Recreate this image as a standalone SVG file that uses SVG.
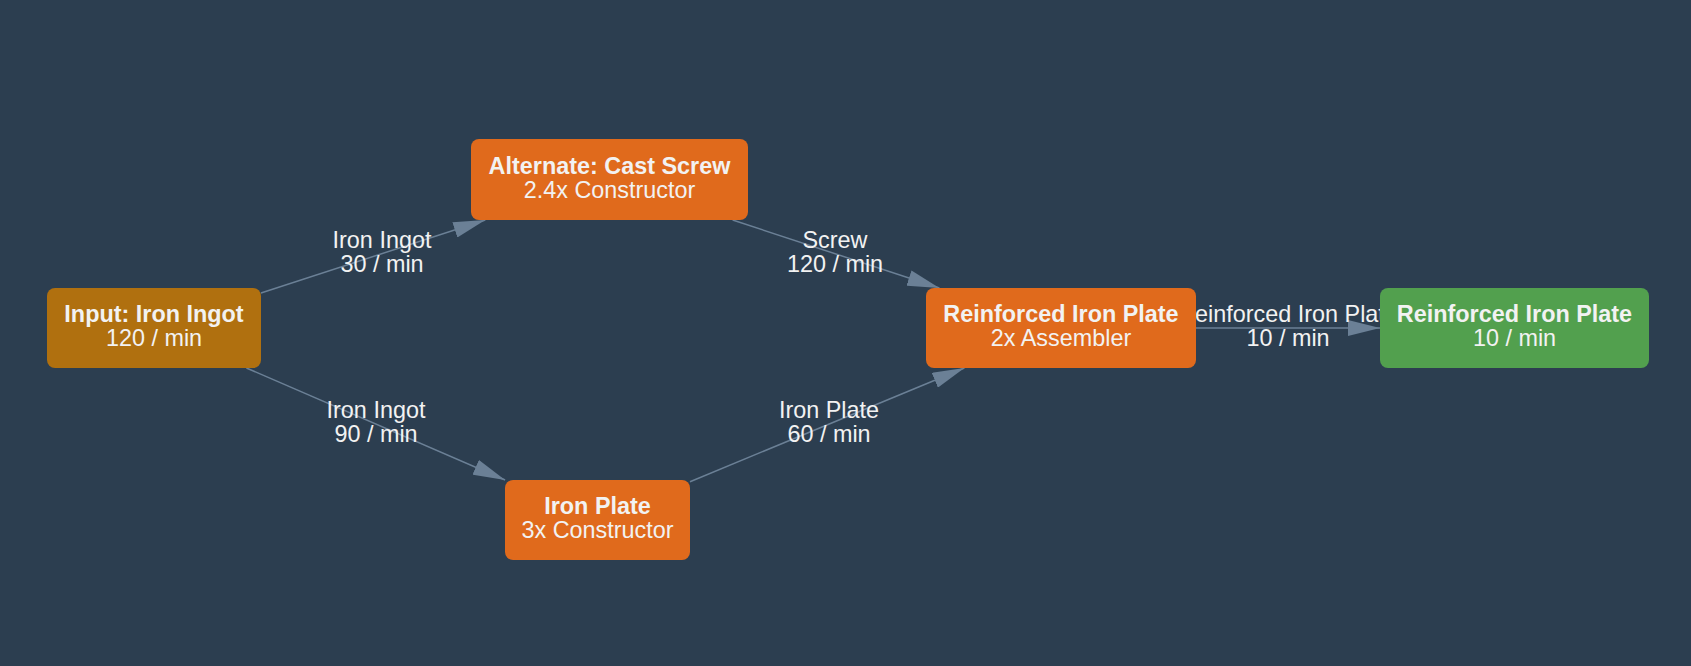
<svg xmlns="http://www.w3.org/2000/svg" width="1691" height="666" viewBox="0 0 1691 666">
<defs>
<style>
.bg{fill:#2c3e50}
.n rect{rx:8;ry:8}
.orange{fill:#e06a1c}
.input{fill:#b0700f}
.green{fill:#52a04e}
.t{font-family:"Liberation Sans",Arial,sans-serif;font-size:23.4px;fill:#f2f2f2;text-anchor:middle}
.b{font-weight:bold}
.e{stroke:#6b8096;stroke-width:1.5;fill:none;marker-end:url(#arr)}
</style>
<marker id="arr" markerUnits="userSpaceOnUse" markerWidth="32" markerHeight="16" refX="32" refY="8" orient="auto" viewBox="0 0 32 16">
<path d="M0,0 L32,8 L0,16 z" fill="#6b8096"/>
</marker>
</defs>
<rect class="bg" x="0" y="0" width="1691" height="666"/>
<g id="connectors">
<g id="e1"><line class="e" x1="261" y1="293" x2="485.3" y2="220"/></g>
<g id="e2"><line class="e" x1="732.6" y1="220" x2="939.4" y2="288"/></g>
<g id="e3"><line class="e" x1="246.4" y1="368" x2="505.1" y2="480"/></g>
<g id="e4"><line class="e" x1="690" y1="481.7" x2="964.4" y2="368"/></g>
<g id="e5"><line class="e" x1="1196" y1="328" x2="1380" y2="328"/></g>
</g>
<g id="edge-labels">
<text class="t" x="382" y="248">Iron Ingot</text>
<text class="t" x="382" y="272">30 / min</text>
<text class="t" x="835" y="248">Screw</text>
<text class="t" x="835" y="272">120 / min</text>
<text class="t" x="376" y="418">Iron Ingot</text>
<text class="t" x="376" y="442">90 / min</text>
<text class="t" x="829" y="418">Iron Plate</text>
<text class="t" x="829" y="442">60 / min</text>
<text class="t" x="1288" y="322">Reinforced Iron Plate</text>
<text class="t" x="1288" y="346">10 / min</text>
</g>
<g id="n-input" class="n">
<rect class="input" x="47" y="288" width="214" height="80"/>
<text class="t b" x="154" y="322">Input: Iron Ingot</text>
<text class="t" x="154" y="346">120 / min</text>
</g>
<g id="n-castscrew" class="n">
<rect class="orange" x="471" y="139" width="277" height="81"/>
<text class="t b" x="609.5" y="173.5">Alternate: Cast Screw</text>
<text class="t" x="609.5" y="197.5">2.4x Constructor</text>
</g>
<g id="n-ironplate" class="n">
<rect class="orange" x="505" y="480" width="185" height="80"/>
<text class="t b" x="597.5" y="514">Iron Plate</text>
<text class="t" x="597.5" y="538">3x Constructor</text>
</g>
<g id="n-rip" class="n">
<rect class="orange" x="926" y="288" width="270" height="80"/>
<text class="t b" x="1061" y="322">Reinforced Iron Plate</text>
<text class="t" x="1061" y="346">2x Assembler</text>
</g>
<g id="n-output" class="n">
<rect class="green" x="1380" y="288" width="269" height="80"/>
<text class="t b" x="1514.5" y="322">Reinforced Iron Plate</text>
<text class="t" x="1514.5" y="346">10 / min</text>
</g>
</svg>
